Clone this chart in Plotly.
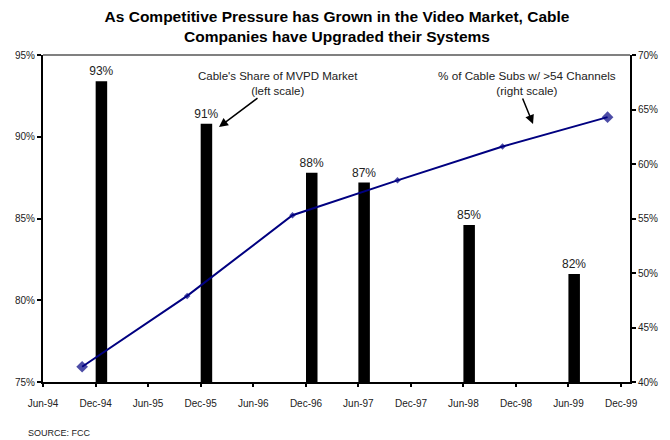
import plotly.graph_objects as go

# Cable's share of the MVPD market (left scale, %)
share_dates = ["1994-12-01", "1995-12-01", "1996-12-01", "1997-06-01", "1998-06-01", "1999-06-01"]
share_values = [93.4, 90.8, 87.8, 87.2, 84.6, 81.6]

# Percent of cable subscribers with more than 54 channels (right scale, %)
subs_dates = ["1994-10-15", "1995-10-15", "1996-10-15", "1997-10-15", "1998-10-15", "1999-10-15"]
subs_values = [41.4, 47.9, 55.3, 58.5, 61.6, 64.3]

# Half-yearly date ticks
tick_dates = ["1994-06-01", "1994-12-01", "1995-06-01", "1995-12-01", "1996-06-01", "1996-12-01",
              "1997-06-01", "1997-12-01", "1998-06-01", "1998-12-01", "1999-06-01", "1999-12-01"]
tick_labels = ["Jun-94", "Dec-94", "Jun-95", "Dec-95", "Jun-96", "Dec-96",
               "Jun-97", "Dec-97", "Jun-98", "Dec-98", "Jun-99", "Dec-99"]

left_ticks = [75, 80, 85, 90, 95]
left_labels = ["75%", "80%", "85%", "90%", "95%"]
right_ticks = [40, 45, 50, 55, 60, 65, 70]
right_labels = ["40%", "45%", "50%", "55%", "60%", "65%", "70%"]

FONT = "Liberation Sans, Arial, sans-serif"
DAY_MS = 86400000

fig = go.Figure()

fig.add_trace(go.Bar(
    x=share_dates, y=share_values,
    width=[40 * DAY_MS] * len(share_dates), offset=0,
    marker=dict(color="black", line=dict(width=0)),
    texttemplate="%{y:.0f}%", textposition="outside", constraintext="none",
    textfont=dict(family=FONT, size=12, color="#222"),
    cliponaxis=False, yaxis="y", showlegend=False,
))

fig.add_trace(go.Scatter(
    x=subs_dates, y=subs_values, mode="lines+markers",
    line=dict(color="#000080", width=2),
    marker=dict(symbol="diamond", size=[9, 5, 5, 5, 5, 9], color="#000080",
                line=dict(width=0)),
    yaxis="y2", showlegend=False,
))

axis_font = dict(family=FONT, size=10, color="#222")

fig.update_layout(
    width=670, height=440,
    margin=dict(l=43, r=40, t=55, b=58),
    paper_bgcolor="white", plot_bgcolor="white",
    font=dict(family=FONT, color="#222"),
    title=dict(
        text="As Competitive Pressure has Grown in the Video Market, Cable<br>Companies have Upgraded their Systems",
        x=0.503, xanchor="center", y=0.95, yanchor="middle",
        font=dict(family=FONT, size=15.5, color="black", weight="bold"),
    ),
    xaxis=dict(
        type="date", range=["1994-06-01", "2000-01-01"],
        tickmode="array", tickvals=tick_dates, ticktext=tick_labels,
        ticks="outside", ticklen=3, tickwidth=2, tickcolor="black",
        ticklabelstandoff=8,
        showline=True, linecolor="black", linewidth=2,
        showgrid=False, zeroline=False, tickfont=axis_font,
    ),
    yaxis=dict(
        range=[75, 95], tickmode="array", tickvals=left_ticks, ticktext=left_labels,
        ticks="outside", ticklen=4, tickwidth=2, tickcolor="black",
        showline=True, linecolor="black", linewidth=2,
        showgrid=False, zeroline=False, tickfont=axis_font,
    ),
    yaxis2=dict(
        range=[40, 70], tickmode="array", tickvals=right_ticks, ticktext=right_labels,
        overlaying="y", side="right",
        ticks="outside", ticklen=4, tickwidth=2, tickcolor="black",
        showline=True, linecolor="black", linewidth=2,
        showgrid=False, zeroline=False, tickfont=axis_font,
    ),
    shapes=[dict(type="line", xref="paper", yref="paper", x0=0, x1=1, y0=1, y1=1,
                 line=dict(color="#808080", width=2))],
    annotations=[
        dict(text="Cable's Share of MVPD Market<br>(left scale)", xref="paper", yref="paper",
             x=0.4003, y=0.914, xanchor="center", yanchor="middle", showarrow=False,
             font=dict(family=FONT, size=11.5, color="#222")),
        dict(text="% of Cable Subs w/ >54 Channels<br>(right scale)", xref="paper", yref="paper",
             x=0.8245, y=0.914, xanchor="center", yanchor="middle", showarrow=False,
             font=dict(family=FONT, size=11.7, color="#222")),
        dict(text="", xref="paper", yref="paper", x=0.2998, y=0.7798, ax=40, ay=-30,
             showarrow=True, arrowhead=2, arrowsize=1.2, arrowwidth=1.5, arrowcolor="black"),
        dict(text="", xref="paper", yref="paper", x=0.8348, y=0.789, ax=-11, ay=-27,
             showarrow=True, arrowhead=2, arrowsize=1.2, arrowwidth=1.5, arrowcolor="black"),
        dict(text="SOURCE: FCC", xref="paper", yref="paper", x=-0.029, y=-0.156,
             xanchor="left", yanchor="middle", showarrow=False,
             font=dict(family=FONT, size=9, color="#222")),
    ],
)

fig.write_html("out.html")
